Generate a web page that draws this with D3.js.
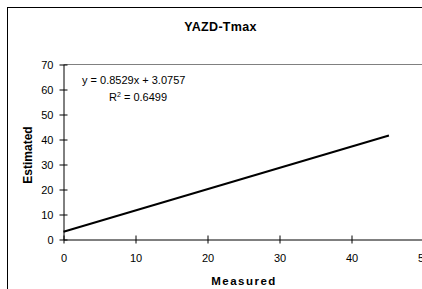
<!DOCTYPE html>
<html><head><meta charset="utf-8">
<script src="https://cdn.jsdelivr.net/npm/d3@7"></script>
<style>body{margin:0;background:#fff}svg{display:block}text{font-family:"Liberation Sans",Arial,sans-serif}</style>
</head><body>
<script>
const title = "YAZD-Tmax";
const xTicks = [0, 10, 20, 30, 40, 50];
const yTicks = [0, 10, 20, 30, 40, 50, 60, 70];
const trendX = [0, 45.2];
const trendY = [3.08, 41.63];
const eqText = "y = 0.8529x + 3.0757";
const r2Value = "0.6499";

const W = 422, H = 289;
const svg = d3.select("body").append("svg").attr("width", W).attr("height", H);
svg.append("rect").attr("width", W).attr("height", H).attr("fill", "#fff");
// outer chart frame (extends beyond canvas)
svg.append("rect").attr("x", 7.5).attr("y", 7.5).attr("width", 500).attr("height", 400)
  .attr("fill", "none").attr("stroke", "#000").attr("stroke-width", 1);

const x = d3.scaleLinear().domain([0, 50]).range([63.5, 423.5]);
const y = d3.scaleLinear().domain([0, 70]).range([239.5, 64.5]);

// plot area top border (gray)
svg.append("line").attr("x1", x(0)).attr("x2", x(50)).attr("y1", y(70)).attr("y2", y(70))
  .attr("stroke", "#808080").attr("stroke-width", 1);

const xAxis = svg.append("g").attr("transform", `translate(0,${y(0)})`)
  .call(d3.axisBottom(x).tickValues(xTicks).tickFormat(d3.format("d")).tickSizeInner(4).tickSizeOuter(0));
xAxis.selectAll(".tick line").attr("y1", -4).attr("y2", 4);
xAxis.selectAll(".tick text").attr("y", 14.5).attr("font-size", 11).attr("fill", "#000");
xAxis.select(".domain").attr("stroke", "#000");

const yAxis = svg.append("g").attr("transform", `translate(${x(0)},0)`)
  .call(d3.axisLeft(y).tickValues(yTicks).tickFormat(d3.format("d")).tickSizeInner(4).tickSizeOuter(0));
yAxis.selectAll(".tick line").attr("x1", -4).attr("x2", 4);
yAxis.selectAll(".tick text").attr("x", -10).attr("font-size", 11).attr("fill", "#000");
yAxis.select(".domain").attr("stroke", "#000");
svg.selectAll(".tick text").attr("font-family", "Liberation Sans, Arial, sans-serif");

// trendline
const pts = trendX.map((d, i) => [d, trendY[i]]);
svg.append("path").datum(pts)
  .attr("d", d3.line().x(d => x(d[0])).y(d => y(d[1])))
  .attr("fill", "none").attr("stroke", "#000").attr("stroke-width", 2);

// title
svg.append("text").attr("x", 220.5).attr("y", 31).attr("text-anchor", "middle")
  .attr("font-size", 12.5).attr("font-weight", "bold").attr("letter-spacing", 0.3).text(title);

// axis titles
svg.append("text").attr("x", 244).attr("y", 285).attr("text-anchor", "middle")
  .attr("font-size", 11.5).attr("font-weight", "bold").attr("letter-spacing", 1.5).text("Measured");
svg.append("text").attr("transform", "translate(31.5,155) rotate(-90)").attr("text-anchor", "middle")
  .attr("font-size", 12).attr("font-weight", "bold").text("Estimated");

// equation
svg.append("text").attr("x", 82).attr("y", 84).attr("font-size", 11).text(eqText);
const r = svg.append("text").attr("x", 109).attr("y", 101).attr("font-size", 11);
r.append("tspan").text("R");
r.append("tspan").attr("font-size", 7).attr("dy", -4).text("2");
r.append("tspan").attr("dy", 4).text(" = " + r2Value);
</script>
</body></html>
